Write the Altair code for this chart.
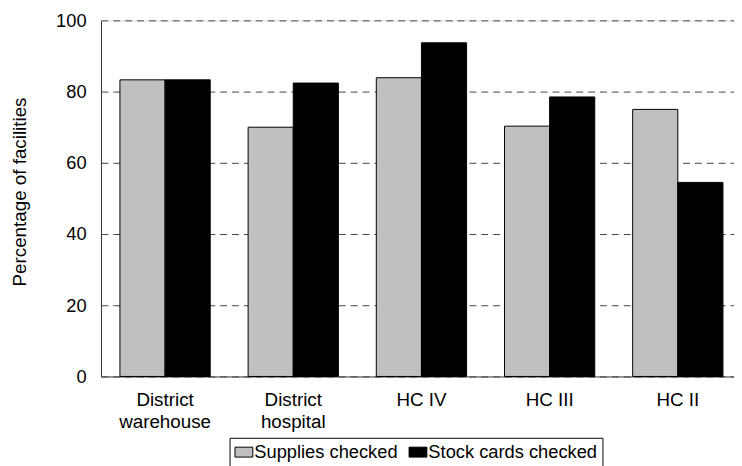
import altair as alt
import pandas as pd

categories = ["District warehouse", "District hospital", "HC IV", "HC III", "HC II"]
series = ["Supplies checked", "Stock cards checked"]
supplies_checked = [83.3, 70.0, 83.9, 70.3, 75.0]
stock_cards_checked = [83.3, 82.4, 93.7, 78.5, 54.5]
y_ticks = [0, 20, 40, 60, 80, 100]
colors = ["#C0C0C0", "#000000"]

rows = []
for c, a, b in zip(categories, supplies_checked, stock_cards_checked):
    rows.append({"cat": c, "series": series[0], "value": a})
    rows.append({"cat": c, "series": series[1], "value": b})
df = pd.DataFrame(rows)

FONT = "Liberation Sans"

chart = alt.Chart(df).mark_bar(stroke="black", strokeWidth=1).encode(
    x=alt.X(
        "cat:N",
        sort=categories,
        scale=alt.Scale(paddingInner=0, paddingOuter=0),
        axis=alt.Axis(
            title=None,
            labelAngle=0,
            ticks=False,
            domain=True,
            domainColor="#444444",
            domainWidth=1,
            labelPadding=14,
            labelFontSize=19,
            labelFont=FONT,
            labelColor="#000000",
            labelLineHeight=22.5,
            labelExpr="indexof(datum.label, 'District') == 0 ? split(datum.label, ' ') : datum.label",
        ),
    ),
    xOffset=alt.XOffset(
        "series:N",
        sort=series,
        scale=alt.Scale(paddingInner=0, paddingOuter=0.42),
    ),
    y=alt.Y(
        "value:Q",
        scale=alt.Scale(domain=[0, 100], nice=False),
        axis=alt.Axis(
            title="Percentage of facilities",
            values=y_ticks,
            ticks=False,
            domain=True,
            domainColor="#333333",
            domainWidth=1,
            grid=True,
            gridDash=[7, 5],
            gridColor="#444444",
            gridWidth=1,
            labelPadding=15,
            labelFontSize=18.5,
            labelFont=FONT,
            labelColor="#000000",
            titleFont=FONT,
            titleFontSize=19,
            titleFontWeight="normal",
            titleColor="#000000",
            titleAngle=-90,
            titleX=-82,
            titleY=173,
            titleAlign="center",
            titleBaseline="middle",
        ),
    ),
    color=alt.Color(
        "series:N",
        sort=series,
        scale=alt.Scale(domain=series, range=colors),
        legend=alt.Legend(
            title=None,
            orient="none",
            direction="horizontal",
            legendX=130,
            legendY=422,
            symbolType="M-1,-0.556H1V0.556H-1Z",
            symbolSize=324,
            symbolStrokeColor="black",
            symbolStrokeWidth=1,
            symbolOpacity=1,
            labelFont=FONT,
            labelFontSize=18.5,
            labelColor="#000000",
            labelLimit=0,
            labelOffset=1,
            columnPadding=8,
            padding=5,
            strokeColor="#000000",
            fillColor="#FFFFFF",
        ),
    ),
).properties(
    width=648,
    height=360,
    padding={"left": 94, "top": 10, "right": -8, "bottom": 88},
    autosize=alt.AutoSizeParams(type="none"),
).configure_view(stroke="transparent").configure(background="white")

chart.save("out.html", embed_options={"renderer": "svg", "actions": False})
